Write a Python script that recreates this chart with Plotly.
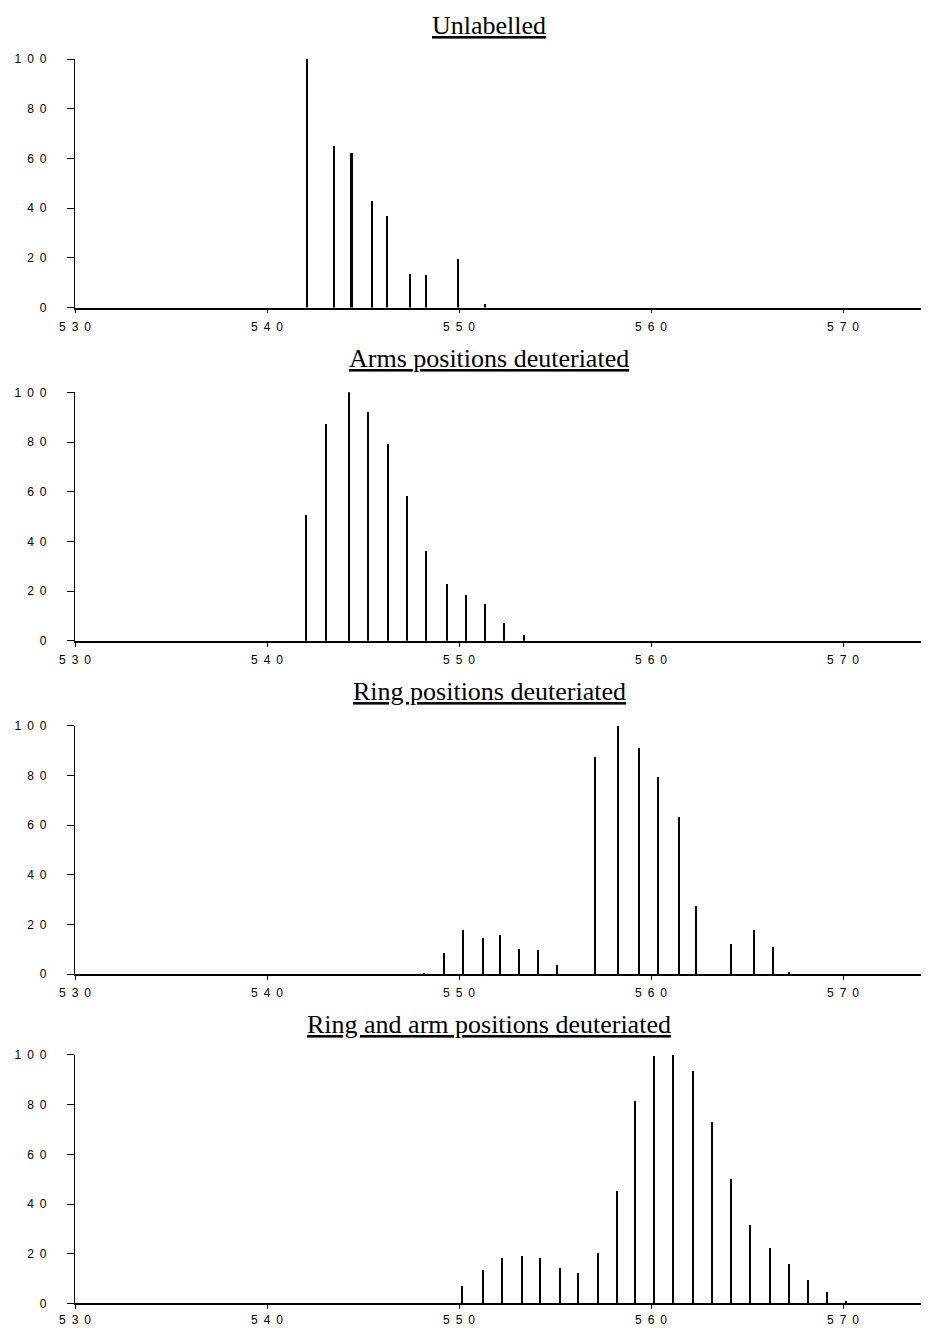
import plotly.graph_objects as go

# Panel titles
titles = [
    "Unlabelled",
    "Arms positions deuteriated",
    "Ring positions deuteriated",
    "Ring and arm positions deuteriated",
]

# m/z positions and relative intensities
mz_unlabelled = [542.1, 543.5, 544.4, 545.45, 546.25, 547.45, 548.3, 549.93, 551.35]
int_unlabelled = [100, 65, 62, 43, 37, 13.5, 13, 19.7, 1.5]

mz_arms = [542.03, 543.07, 544.29, 545.28, 546.29, 547.29, 548.28, 549.38,
           550.36, 551.35, 552.36, 553.37]
int_arms = [50.5, 87, 100, 92, 79, 58, 36, 22.6, 18.5, 14.5, 7, 2.4]

mz_ring = [548.19, 549.23, 550.19, 551.23, 552.15, 553.14, 554.10, 555.10,
           557.10, 558.30, 559.39, 560.35, 561.47, 562.34, 564.17, 565.35,
           566.37, 567.20]
int_ring = [0.8, 8.7, 18, 14.8, 15.7, 10.4, 10, 4, 87.5, 100, 91, 79.5,
            63.5, 27.7, 12.4, 18.1, 10.9, 1.2]

mz_ring_arm = [550.14, 551.23, 552.24, 553.27, 554.23, 555.24, 556.21, 557.22,
               558.21, 559.18, 560.17, 561.16, 562.17, 563.18, 564.17, 565.17,
               566.18, 567.17, 568.18, 569.17, 570.16]
int_ring_arm = [7.2, 13.5, 18.2, 19.2, 18.5, 14.2, 12.4, 20.5, 45.3, 81.4,
                99.6, 100, 93.4, 72.9, 50.3, 31.5, 22.4, 15.7, 9.4, 4.5, 1]

x_ticks = [530, 540, 550, 560, 570]
x_tick_text = ["5\u20023\u20020", "5\u20024\u20020", "5\u20025\u20020",
               "5\u20026\u20020", "5\u20027\u20020"]
y_ticks = [0, 20, 40, 60, 80, 100]
y_tick_text = ["0", "2\u20020", "4\u20020", "6\u20020", "8\u20020", "1\u20020\u20020"]

panels = [
    (titles[0], mz_unlabelled, int_unlabelled),
    (titles[1], mz_arms, int_arms),
    (titles[2], mz_ring, int_ring),
    (titles[3], mz_ring_arm, int_ring_arm),
]

# the html page keeps the browser's 8px body margin, so the figure is
# made 16px smaller and everything is placed 8px up/left
OFF = 8
W, H = 929 - 2 * OFF, 1336 - 2 * OFF
tick_font = dict(family="Liberation Sans, Arial", size=12, color="black")

fig = go.Figure()
for i, (title, mz, inten) in enumerate(panels):
    n = "" if i == 0 else str(i + 1)
    lift = 0 if i < 3 else 4   # bottom panel nudged up so its labels fit
    top = 59 + 333.3 * i - OFF - lift
    bot = 307.5 + 333.3 * i - OFF - lift
    fig.add_trace(go.Bar(
        x=mz, y=inten, xaxis="x" + n, yaxis="y" + n,
        width=0.11, marker=dict(color="black", line_width=0),
        showlegend=False,
    ))
    fig.update_layout({
        "xaxis" + n: dict(
            domain=[(75 - OFF) / W, 1], range=[530, 574.06], anchor="y" + n,
            tickvals=x_ticks, ticktext=x_tick_text, ticks="outside",
            ticklen=4, tickwidth=1, tickcolor="black",
            showline=True, linecolor="black", linewidth=1.5,
            showgrid=False, zeroline=False, tickfont=tick_font,
            ticklabelstandoff=3 if i < 3 else 0,
            fixedrange=True, automargin=False,
        ),
        "yaxis" + n: dict(
            domain=[1 - bot / H, 1 - top / H], range=[0, 100], anchor="x" + n,
            tickvals=y_ticks, ticktext=y_tick_text, ticks="outside",
            ticklen=7, tickwidth=1, tickcolor="black",
            showline=True, linecolor="black", linewidth=1.2,
            showgrid=False, zeroline=False, tickfont=tick_font,
            ticklabelstandoff=18, fixedrange=True, automargin=False,
        ),
    })
    fig.add_annotation(
        text="<u>" + title + "</u>", xref="paper", yref="paper",
        x=(489 - OFF) / W, y=1 - (25 + 333.3 * i - OFF) / H,
        xanchor="center", yanchor="middle", showarrow=False,
        font=dict(family="Liberation Serif, Times New Roman", size=26, color="black"),
    )

fig.update_layout(
    template="none",
    width=W, height=H,
    margin=dict(l=0, r=0, t=0, b=0, autoexpand=False),
    paper_bgcolor="white", plot_bgcolor="white",
    bargap=0,
)

fig.write_html("out.html")
